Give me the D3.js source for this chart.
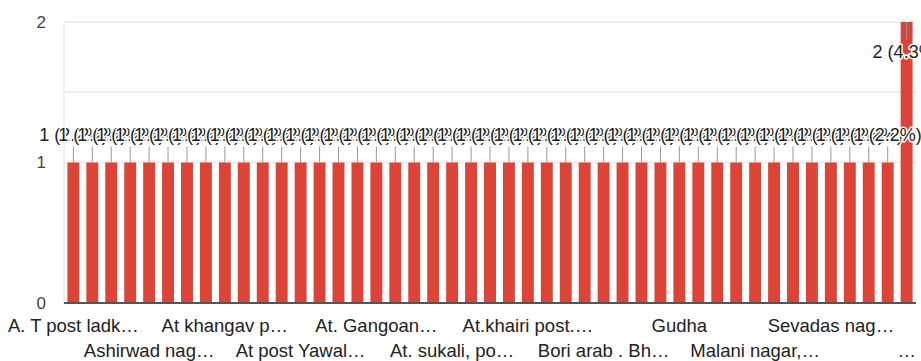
<!DOCTYPE html>
<html>
<head>
<meta charset="utf-8">
<script src="https://cdn.jsdelivr.net/npm/d3@7/dist/d3.min.js"></script>
<style>
  html, body { margin: 0; padding: 0; background: #fff; }
  svg { display: block; font-family: "Liberation Sans", Arial, sans-serif; }
</style>
</head>
<body>
<svg id="chart" width="921" height="361"></svg>
<script>
// ---- data ----
const categories = [
  "A. T post ladk…", "", "", "", "Ashirwad nag…", "", "", "",
  "At khangav p…", "", "", "", "At post Yawal…", "", "", "",
  "At. Gangoan…", "", "", "", "At. sukali, po…", "", "", "",
  "At.khairi post.…", "", "", "", "Bori arab . Bh…", "", "", "",
  "Gudha", "", "", "", "Malani nagar,…", "", "", "",
  "Sevadas nag…", "", "", "", "…"
];
const values = [
  1, 1, 1, 1, 1, 1, 1, 1, 1, 1,
  1, 1, 1, 1, 1, 1, 1, 1, 1, 1,
  1, 1, 1, 1, 1, 1, 1, 1, 1, 1,
  1, 1, 1, 1, 1, 1, 1, 1, 1, 1,
  1, 1, 1, 1, 2
];
const totalResponses = 46;
const yTicks = [0, 1, 2];
const yGrid = [1, 1.5, 2];

// ---- layout ----
const svg = d3.select("#chart");
const mLeft = 64, mRight = 916, mTop = 22, mBottom = 303;

const x = d3.scaleBand()
  .domain(d3.range(values.length))
  .range([mLeft, mRight])
  .paddingInner(0.37)
  .paddingOuter(0.18);

const y = d3.scaleLinear().domain([0, 2]).range([mBottom, mTop]);

// gridlines
svg.append("g").selectAll("line").data(yGrid).join("line")
  .attr("x1", mLeft).attr("x2", mRight)
  .attr("y1", d => y(d)).attr("y2", d => y(d))
  .attr("stroke", "#ebebeb").attr("stroke-width", 1.5);
svg.append("line")
  .attr("x1", mLeft).attr("x2", mLeft)
  .attr("y1", mTop).attr("y2", mBottom)
  .attr("stroke", "#ebebeb").attr("stroke-width", 1.5);

// y axis labels
const yAxis = d3.axisLeft(y).tickValues(yTicks).tickFormat(d3.format("d")).tickSize(0).tickPadding(0);
const gy = svg.append("g").attr("transform", `translate(${mLeft - 18},0)`).call(yAxis);
gy.select(".domain").remove();
gy.selectAll("text")
  .attr("font-size", 17).attr("fill", "#444")
  .attr("font-family", "Liberation Sans, Arial, sans-serif");

// bars
svg.append("g").selectAll("rect").data(values).join("rect")
  .attr("x", (d, i) => x(i))
  .attr("width", x.bandwidth())
  .attr("y", d => y(d))
  .attr("height", d => y(0) - y(d))
  .attr("fill", "#db4437");

// baseline
svg.append("line")
  .attr("x1", mLeft).attr("x2", mRight)
  .attr("y1", y(0)).attr("y2", y(0))
  .attr("stroke", "#555").attr("stroke-width", 2);

// x axis labels (every 4th, alternating rows)
const xAxis = d3.axisBottom(x)
  .tickValues(d3.range(0, values.length, 4))
  .tickFormat(i => categories[i])
  .tickSize(0).tickPadding(0);
const gx = svg.append("g").attr("transform", `translate(0,${y(0)})`).call(xAxis);
gx.select(".domain").remove();
gx.selectAll(".tick text")
  .attr("font-size", 18.5).attr("fill", "#222")
  .attr("font-family", "Liberation Sans, Arial, sans-serif")
  .attr("dy", null)
  .attr("dominant-baseline", "central")
  .attr("y", (i) => (i / 4) % 2 === 0 ? 22 : 47);

// annotations
const ann = svg.append("g");
const fmtPct = v => `${v} (${(v / totalResponses * 100).toFixed(1)}%)`;
values.forEach((v, i) => {
  const cx = x(i) + x.bandwidth() / 2;
  const inside = v === 2;
  const stemY1 = y(v), stemY2 = inside ? y(v) + 17 : y(v) - 16;
  const textY = inside ? y(v) + 30 : y(v) - 28;
  ann.append("line")
    .attr("x1", cx).attr("x2", cx)
    .attr("y1", stemY1).attr("y2", stemY2)
    .attr("stroke", "#999").attr("stroke-width", 1);
  ann.append("text")
    .attr("x", cx).attr("y", textY)
    .attr("text-anchor", "middle")
    .attr("dominant-baseline", "central")
    .attr("font-size", 18)
    .attr("fill", "#222")
    .attr("stroke", "#fff").attr("stroke-width", 3)
    .attr("paint-order", "stroke")
    .attr("stroke-linejoin", "round")
    .text(fmtPct(v));
});
</script>
</body>
</html>
